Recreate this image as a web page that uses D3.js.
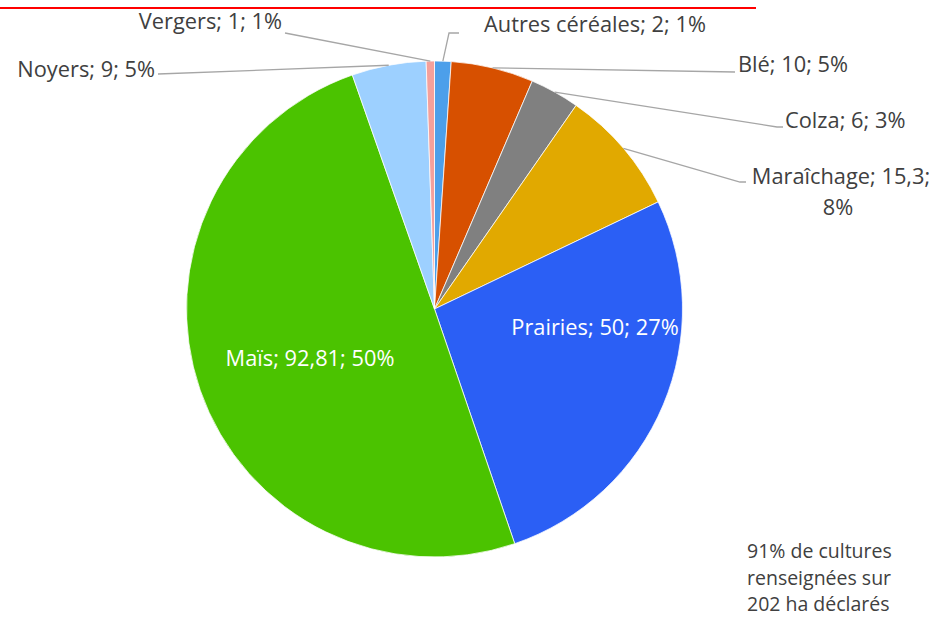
<!DOCTYPE html>
<html>
<head>
<meta charset="utf-8">
<script src="https://cdn.jsdelivr.net/npm/d3@7"></script>
<style>
  body { margin: 0; background: #fff; }
  svg { display: block; }
  text { font-family: "Open Sans", "Noto Sans", sans-serif; }
</style>
</head>
<body>
<svg></svg>
<script>
var WIDTH = 937;
var HEIGHT = 618;

// data, clockwise from 12 o'clock
var cultures = ['Autres céréales', 'Blé', 'Colza', 'Maraîchage', 'Prairies', 'Maïs', 'Noyers', 'Vergers'];
var surfaces = [2, 10, 6, 15.3, 50, 92.81, 9, 1];
var valueLabels = ['2', '10', '6', '15,3', '50', '92,81', '9', '1'];
var percentLabels = ['1%', '5%', '3%', '8%', '27%', '50%', '5%', '1%'];
var colors = ['#4c9fea', '#d75000', '#808080', '#e1a900', '#2b5ff5', '#4bc300', '#9dd0ff', '#f4a09b'];
var noteLines = ['91% de cultures', 'renseignées sur', '202 ha déclarés'];

// label layout (positions only)
var labelLayout = {
  'Autres céréales': { x: 484, y: 32, anchor: 'start', line: [[459, 33], [449, 33]] },
  'Blé': { x: 738, y: 72, anchor: 'start', line: [[735, 72]] },
  'Colza': { x: 785, y: 128, anchor: 'start', line: [[783, 127], [777, 127]] },
  'Maraîchage': { x: 841, y: 184, anchor: 'middle', wrap: true, line: [[746, 182], [740, 182]] },
  'Prairies': { x: 595, y: 335, anchor: 'middle', inside: true },
  'Maïs': { x: 310, y: 366, anchor: 'middle', inside: true },
  'Noyers': { x: 155, y: 77, anchor: 'end', line: [[158, 74]] },
  'Vergers': { x: 282, y: 29, anchor: 'end', line: [[285, 33]] }
};

var cx = 434.5, cy = 309, radius = 248;

var svg = d3.select('svg')
  .attr('width', WIDTH)
  .attr('height', HEIGHT);

// red underline of the cropped title
svg.append('line')
  .attr('x1', 0).attr('x2', 756)
  .attr('y1', 8).attr('y2', 8)
  .attr('stroke', '#ff0000')
  .attr('stroke-width', 2);

var slices = cultures.map(function(c, i) {
  return { name: c, value: surfaces[i], label: valueLabels[i], pct: percentLabels[i], color: colors[i] };
});

var pie = d3.pie()
  .sort(null)
  .value(function(d) { return d.value; });

var arc = d3.arc()
  .innerRadius(0)
  .outerRadius(radius);

var arcs = pie(slices);

var g = svg.append('g').attr('transform', 'translate(' + cx + ',' + cy + ')');

g.selectAll('path')
  .data(arcs)
  .enter()
  .append('path')
  .attr('d', arc)
  .attr('fill', function(d) { return d.data.color; })
  .attr('stroke', '#ffffff')
  .attr('stroke-width', 0.75);

// leader lines
var edgePoint = function(d) {
  var a = (d.startAngle + d.endAngle) / 2;
  return [cx + radius * Math.sin(a), cy - radius * Math.cos(a)];
};

arcs.forEach(function(d) {
  var lay = labelLayout[d.data.name];
  if (!lay.line) return;
  var pts = lay.line.concat([edgePoint(d)]);
  svg.append('path')
    .attr('d', d3.line()(pts))
    .attr('fill', 'none')
    .attr('stroke', '#a6a6a6')
    .attr('stroke-width', 1.3);
});

// labels
arcs.forEach(function(d) {
  var lay = labelLayout[d.data.name];
  var t = svg.append('text')
    .attr('x', lay.x)
    .attr('y', lay.y)
    .attr('text-anchor', lay.anchor)
    .attr('font-size', 21.8)
    .attr('fill', lay.inside ? '#ffffff' : '#404040');
  if (lay.wrap) {
    t.append('tspan').attr('x', lay.x).text(d.data.name + '; ' + d.data.label + ';');
    t.append('tspan').attr('x', lay.x - 3).attr('dy', 31).text(d.data.pct);
  } else {
    t.text(d.data.name + '; ' + d.data.label + '; ' + d.data.pct);
  }
});

// note
svg.append('text')
  .attr('x', 747)
  .attr('y', 558)
  .attr('font-size', 19.5)
  .attr('fill', '#404040')
  .selectAll('tspan')
  .data(noteLines)
  .enter()
  .append('tspan')
  .attr('x', 747)
  .attr('dy', function(d, i) { return i === 0 ? 0 : 26.5; })
  .text(function(d) { return d; });
</script>
</body>
</html>
